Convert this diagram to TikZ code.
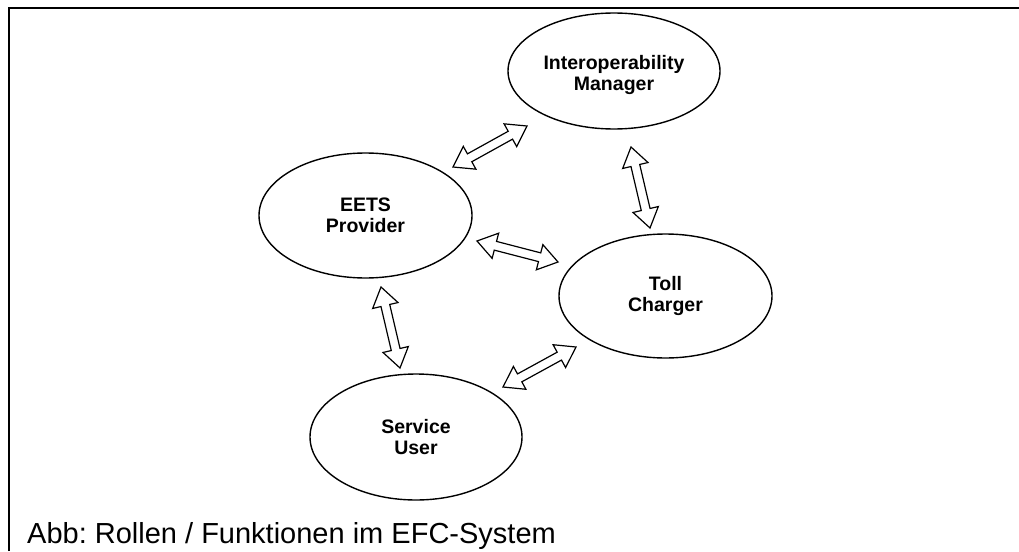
\documentclass[tikz,border=0pt]{standalone}
\usepackage{fontspec}
\setmainfont{Liberation Sans}
\usetikzlibrary{shapes.geometric,calc}
\frenchspacing
\tikzset{
  role/.style={draw, ellipse, line width=1.4pt, inner sep=0pt, align=center,
    font=\fontsize{19.5}{21.5}\selectfont\bfseries},
  roletext/.style={align=center, inner sep=0pt, font=\fontsize{19.5}{21.5}\selectfont\bfseries},
  dblarr/.style={draw, line width=1.2pt, line join=miter, fill=white},
  frameline/.style={line width=2pt},
  captiontext/.style={anchor=base west, inner sep=0pt, font=\fontsize{29}{33}\selectfont},
}
\newcommand\arrHL{19pt}
\newcommand\arrHW{13pt}
\newcommand\arrSW{4.5pt}
\newcommand\dblarrow[2]{%
  \draw[dblarr] (#1)
    -- ($(#1)!\arrHL!(#2)!\arrHW!90:(#2)$)
    -- ($(#1)!\arrHL!(#2)!\arrSW!90:(#2)$)
    -- ($(#2)!\arrHL!(#1)!\arrSW!-90:(#1)$)
    -- ($(#2)!\arrHL!(#1)!\arrHW!-90:(#1)$)
    -- (#2)
    -- ($(#2)!\arrHL!(#1)!\arrHW!90:(#1)$)
    -- ($(#2)!\arrHL!(#1)!\arrSW!90:(#1)$)
    -- ($(#1)!\arrHL!(#2)!\arrSW!-90:(#2)$)
    -- ($(#1)!\arrHL!(#2)!\arrHW!-90:(#2)$)
    -- cycle;}
\begin{document}
\begin{tikzpicture}[x=1pt, y=-1pt]
  \useasboundingbox (0,0) rectangle (1019,551);
  \fill[white] (0,0) rectangle (1019,551);
  % frame
  \draw[frameline] (9,551) -- (9,7.7) -- (1019,7.7);
  % roles
  \node[role, minimum width=212pt, minimum height=116pt] (im) at (614,71) {};
  \node[roletext] (imt) at (614,75) {Interoperability\\Manager};
  \node[role, minimum width=213pt, minimum height=125pt] (eets) at (365.5,215.5) {EETS\\Provider};
  \node[role, minimum width=213pt, minimum height=124pt] (toll) at (665.5,296) {Toll\\Charger};
  \node[role, minimum width=212pt, minimum height=126pt] (su) at (416,437) {Service\\User};
  % arrow end points
  \coordinate (a1s) at (453,167);
  \coordinate (a1e) at (527,126);
  \coordinate (a2s) at (631,147);
  \coordinate (a2e) at (650,228);
  \coordinate (a3s) at (477,241);
  \coordinate (a3e) at (558,262);
  \coordinate (a4s) at (381,287);
  \coordinate (a4e) at (400,368);
  \coordinate (a5s) at (503,387);
  \coordinate (a5e) at (576,347);
  \dblarrow{a1s}{a1e}
  \dblarrow{a2s}{a2e}
  \dblarrow{a3s}{a3e}
  \dblarrow{a4s}{a4e}
  \dblarrow{a5s}{a5e}
  % caption
  \node[captiontext] (cap) at (27,543) {Abb: Rollen / Funktionen im EFC-System};
\end{tikzpicture}
\end{document}
